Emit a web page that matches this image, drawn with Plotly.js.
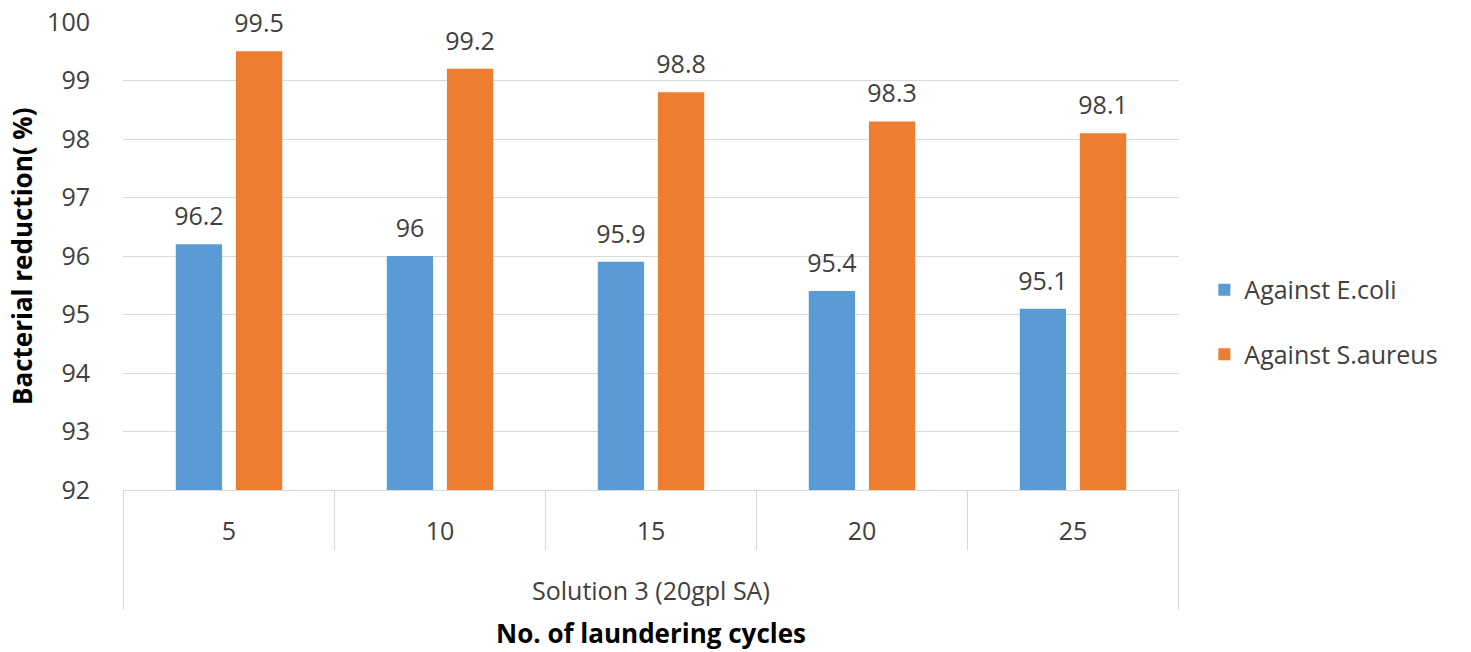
<!DOCTYPE html>
<html>
<head>
<meta charset="utf-8">
<script src="https://cdn.plot.ly/plotly-3.0.1.min.js"></script>
<style>
  html, body { margin: 0; padding: 0; background: #fff; }
  #chart { width: 1471px; height: 652px; }
</style>
</head>
<body>
<div id="chart"></div>
<script>
// Laundering durability of the antibacterial finish (Solution 3, 20gpl SA)
const cycles = ["5", "10", "15", "20", "25"];
const eColi = [96.2, 96.0, 95.9, 95.4, 95.1];
const sAureus = [99.5, 99.2, 98.8, 98.3, 98.1];
const groupLabel = "Solution 3 (20gpl SA)";
const seriesNames = ["Against E.coli", "Against S.aureus"];
const seriesColors = ["#5B9BD5", "#ED7D31"];

const FONT = "'Open Sans', Lato, sans-serif";
const FS = 25;
const FS_TITLE = 26;
const TXT = "#404040";

function barTrace(i, values) {
  return {
    type: "bar",
    name: seriesNames[i],
    legendgroup: seriesNames[i],
    offsetgroup: String(i),
    x: cycles,
    y: values,
    marker: { color: seriesColors[i] },
    hoverinfo: "x+y+name"
  };
}

// Value labels: invisible markers sitting on each bar top, text above them
function labelTrace(i, values) {
  return {
    type: "scatter",
    mode: "markers+text",
    showlegend: false,
    offsetgroup: String(i),
    x: cycles,
    y: values,
    text: values.map(v => String(v)),
    textposition: "top center",
    textfont: { family: FONT, size: FS, color: TXT },
    marker: { size: 19, opacity: 0, color: seriesColors[i] },
    cliponaxis: false,
    hoverinfo: "skip"
  };
}

const data = [
  barTrace(0, eColi),
  barTrace(1, sAureus),
  labelTrace(0, eColi),
  labelTrace(1, sAureus)
];

// Category dividers below the axis (two-level category axis look)
const shapes = [];
const n = cycles.length;
for (let i = 0; i <= n; i++) {
  const outer = (i === 0 || i === n);
  shapes.push({
    type: "line", xref: "x", yref: "paper",
    x0: i - 0.5, x1: i - 0.5,
    y0: 0, y1: outer ? -0.2564 : -0.1282,
    line: { color: "#D9D9D9", width: 1 }
  });
}

const layout = {
  width: 1471, height: 652,
  margin: { l: 123, r: 292, t: 22, b: 162 },
  paper_bgcolor: "#ffffff",
  plot_bgcolor: "#ffffff",
  font: { family: FONT, size: FS, color: TXT },
  barmode: "group",
  bargap: 0.43,
  bargroupgap: 0.23,
  scattermode: "group",
  scattergap: 0.43,
  showlegend: true,
  legend: {
    x: 1.024, xanchor: "left",
    y: 0.359, yanchor: "middle",
    font: { family: FONT, size: FS, color: TXT },
    tracegroupgap: 29,
    bgcolor: "rgba(0,0,0,0)"
  },
  xaxis: {
    type: "category",
    showgrid: false,
    zeroline: false,
    showline: true,
    linecolor: "#D9D9D9",
    linewidth: 1,
    ticks: "outside",
    ticklen: 19,
    tickcolor: "rgba(0,0,0,0)",
    tickfont: { family: FONT, size: FS, color: TXT },
    fixedrange: true
  },
  yaxis: {
    range: [92, 100],
    dtick: 1,
    showgrid: true,
    gridcolor: "#D9D9D9",
    gridwidth: 1,
    zeroline: false,
    showline: false,
    ticks: "outside",
    ticklen: 27,
    tickcolor: "rgba(0,0,0,0)",
    tickfont: { family: FONT, size: FS, color: TXT },
    fixedrange: true
  },
  shapes: shapes,
  annotations: [
    {
      text: groupLabel, xref: "paper", yref: "paper",
      x: 0.5, y: -0.2137, xanchor: "center", yanchor: "middle",
      showarrow: false, font: { family: FONT, size: FS, color: TXT }
    },
    {
      text: "<b>No. of laundering cycles</b>", xref: "paper", yref: "paper",
      x: 0.5, y: -0.3056, xanchor: "center", yanchor: "middle",
      showarrow: false, font: { family: FONT, size: FS_TITLE, color: "#000000" }
    },
    {
      text: "<b>Bacterial reduction( %)</b>", xref: "paper", yref: "paper",
      x: -0.0956, y: 0.5, xanchor: "center", yanchor: "middle",
      textangle: -90,
      showarrow: false, font: { family: FONT, size: FS_TITLE, color: "#000000" }
    }
  ]
};

Plotly.newPlot("chart", data, layout, { displayModeBar: false, staticPlot: true });
</script>
</body>
</html>
